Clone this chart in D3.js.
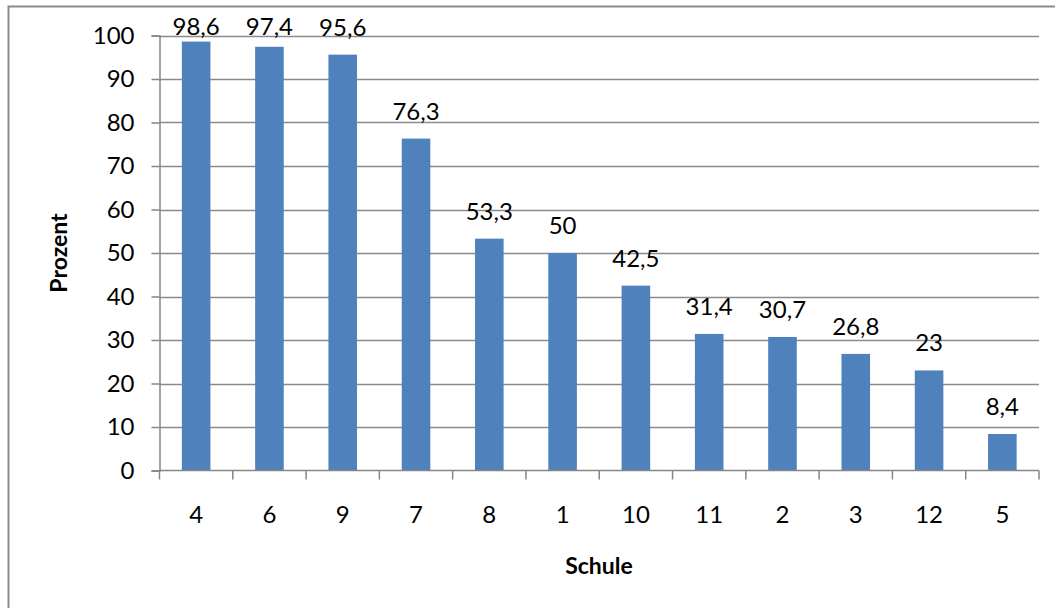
<!DOCTYPE html>
<html>
<head>
<meta charset="utf-8">
<script src="https://cdn.jsdelivr.net/npm/d3@7"></script>
<style>
  html, body { margin: 0; padding: 0; background: #fff; }
  svg { display: block; font-family: Lato, "Open Sans", sans-serif; }
</style>
</head>
<body>
<svg id="chart" width="1055" height="608"></svg>
<script>
// School categories, sorted by share
const schools = ["4", "6", "9", "7", "8", "1", "10", "11", "2", "3", "12", "5"];
const percent = [98.6, 97.4, 95.6, 76.3, 53.3, 50, 42.5, 31.4, 30.7, 26.8, 23, 8.4];
const yTicks = [0, 10, 20, 30, 40, 50, 60, 70, 80, 90, 100];

const svg = d3.select("#chart");
const plot = { left: 159.5, right: 1039, top: 35.5, bottom: 470.5 };
const fs = 24;

// Chart area frame (left and top edges visible)
svg.append("path")
  .attr("d", "M8.5,608 L8.5,6.5 L1055,6.5")
  .attr("fill", "none").attr("stroke", "#8c8c8c").attr("stroke-width", 2);

const x = d3.scaleBand().domain(schools).range([plot.left, plot.right])
  .paddingInner(0.61).paddingOuter(0.305);
const y = d3.scaleLinear().domain([0, 100]).range([plot.bottom, plot.top]);

// Horizontal gridlines
svg.append("g").selectAll("line").data(yTicks.filter(d => d > 0)).join("line")
  .attr("x1", plot.left).attr("x2", plot.right)
  .attr("y1", d => Math.round(y(d)) + 0.5).attr("y2", d => Math.round(y(d)) + 0.5)
  .attr("stroke", "#8a8a8a").attr("stroke-width", 1.5);

// Y axis
const yAxis = svg.append("g").attr("transform", `translate(${plot.left},0)`)
  .call(d3.axisLeft(y).tickValues(yTicks).tickSize(8).tickPadding(17).tickFormat(d3.format("d")));
yAxis.select(".domain").attr("stroke", "#868686").attr("stroke-width", 1.5);
yAxis.selectAll(".tick line").attr("stroke", "#868686").attr("stroke-width", 1.5);
yAxis.selectAll(".tick text").attr("font-size", fs).attr("fill", "#000")
  .attr("font-family", "Lato, sans-serif");

// Bars
svg.append("g").selectAll("rect").data(percent).join("rect")
  .attr("x", (d, i) => x(schools[i]))
  .attr("width", x.bandwidth())
  .attr("y", d => y(d))
  .attr("height", d => y(0) - y(d))
  .attr("fill", "#4f81bd");

// X axis with tick marks at category boundaries
const xAxisG = svg.append("g").attr("transform", `translate(0,${plot.bottom})`);
xAxisG.append("line").attr("x1", plot.left).attr("x2", plot.right)
  .attr("stroke", "#868686").attr("stroke-width", 1.5);
const step = x.step();
const bounds = d3.range(schools.length + 1).map(i => plot.left + i * step);
xAxisG.selectAll(".bt").data(bounds).join("line").attr("class", "bt")
  .attr("x1", d => d).attr("x2", d => d).attr("y1", 0).attr("y2", 9)
  .attr("stroke", "#868686").attr("stroke-width", 1.5);
xAxisG.selectAll("text").data(schools).join("text")
  .attr("x", d => x(d) + x.bandwidth() / 2)
  .attr("y", 52)
  .attr("text-anchor", "middle")
  .attr("font-size", fs).attr("fill", "#000")
  .text(d => d);

// Value labels above the bars
const fmt = v => String(v).replace(".", ",");
svg.append("g").selectAll("text").data(percent).join("text")
  .attr("x", (d, i) => x(schools[i]) + x.bandwidth() / 2)
  .attr("y", d => Math.max(y(d) - 19, 35))
  .attr("text-anchor", "middle")
  .attr("font-size", fs).attr("fill", "#000")
  .text(d => fmt(d));

// Axis titles
svg.append("text")
  .attr("transform", `translate(67,253) rotate(-90)`)
  .attr("text-anchor", "middle")
  .attr("font-size", 23).attr("font-weight", "bold").attr("fill", "#000")
  .text("Prozent");
svg.append("text")
  .attr("x", 599).attr("y", 574)
  .attr("text-anchor", "middle")
  .attr("font-size", 23).attr("font-weight", "bold").attr("fill", "#000")
  .text("Schule");
</script>
</body>
</html>
